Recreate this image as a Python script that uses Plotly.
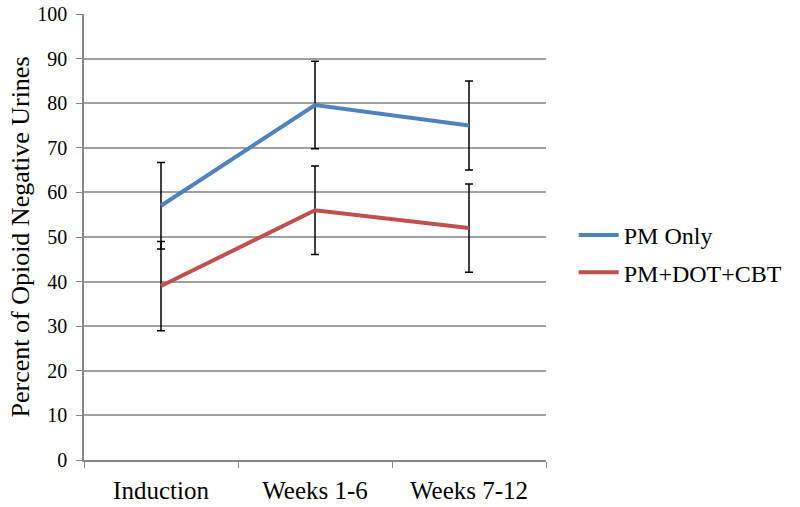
import plotly.graph_objects as go

categories = ["Induction", "Weeks 1-6", "Weeks 7-12"]
pm_only = [57, 79.6, 75]
pm_only_err = [9.7, 9.8, 10]
pm_dot_cbt = [39, 56, 52]
pm_dot_cbt_err = [10, 9.9, 9.9]
y_ticks = list(range(0, 101, 10))

FONT = "Liberation Serif, Times New Roman, Times, serif"

fig = go.Figure()
fig.add_trace(go.Scatter(
    x=categories, y=pm_only, mode="lines", name="PM Only",
    line=dict(color="#4F81BD", width=4),
    error_y=dict(type="data", array=pm_only_err, visible=True,
                 color="black", thickness=1.5, width=4),
    legendgroup="a",
))
fig.add_trace(go.Scatter(
    x=categories, y=pm_dot_cbt, mode="lines", name="PM+DOT+CBT",
    line=dict(color="#C0504D", width=4),
    error_y=dict(type="data", array=pm_dot_cbt_err, visible=True,
                 color="black", thickness=1.5, width=4),
    legendgroup="b",
))

fig.update_layout(
    width=800, height=507,
    margin=dict(l=84, r=254, t=14, b=47),
    paper_bgcolor="white", plot_bgcolor="white",
    font=dict(family=FONT, size=24, color="black"),
    showlegend=True,
    legend=dict(x=1.06, y=0.462, xanchor="left", yanchor="middle",
                font=dict(family=FONT, size=24),
                traceorder="grouped", tracegroupgap=3,
                itemwidth=40),
    xaxis=dict(
        type="category", range=[-0.5, 2.5], automargin=False,
        showline=True, linecolor="#888888", linewidth=1.5,
        ticks="outside", tickson="boundaries", ticklen=6, tickcolor="#888888",
        showgrid=False, tickfont=dict(family=FONT, size=25),
        ticklabelstandoff=7,
    ),
    yaxis=dict(
        range=[0, 100], tickvals=y_ticks, automargin=False,
        showline=True, linecolor="#888888", linewidth=1.5,
        ticks="outside", ticklen=6, tickcolor="#888888",
        showgrid=True, gridcolor="#a0a0a0", gridwidth=1.5,
        zeroline=False,
        tickfont=dict(family=FONT, size=20),
        ticklabelstandoff=5,
        title=dict(text="Percent of Opioid Negative Urines",
                   font=dict(family=FONT, size=26), standoff=0),
    ),
)

fig.write_html(
    "out.html",
    config={"displayModeBar": False},
    post_script="document.body.style.margin='0';document.body.style.padding='0';",
)
